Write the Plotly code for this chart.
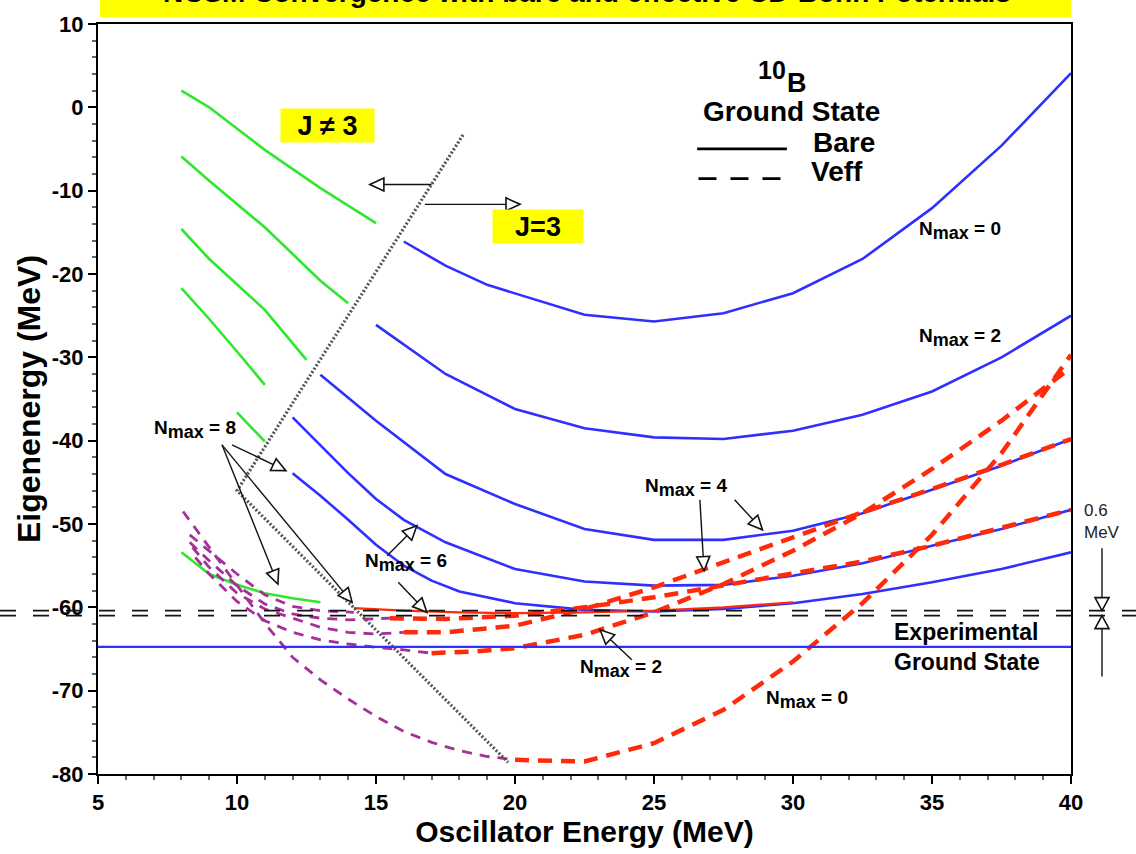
import math
import plotly.graph_objects as go

# ---------------- data: 10B ground-state energy vs. oscillator energy ----------------
# bare interaction, J=3 ground state (blue)
bare0_hw = [16, 17.5, 19, 22.5, 25, 27.5, 30, 32.5, 35, 37.5, 40]
bare0_e = [-16.1, -19.0, -21.3, -24.9, -25.7, -24.7, -22.3, -18.2, -12.1, -4.6, 4.1]
bare2_hw = [15, 17.5, 20, 22.5, 25, 27.5, 30, 32.5, 35, 37.5, 40]
bare2_e = [-26.1, -32.0, -36.2, -38.5, -39.6, -39.8, -38.8, -36.9, -34.1, -30.0, -25.0]
bare4_hw = [13, 15, 17.5, 20, 22.5, 25, 27.5, 30, 32.5, 35, 37.5, 40]
bare4_e = [-32.1, -37.6, -44.0, -47.6, -50.6, -51.9, -51.9, -50.8, -48.7, -45.9, -43.0, -39.8]
bare6_hw = [12, 13, 14, 15, 16, 17.5, 20, 22.5, 25, 27.5, 30, 32.5, 35, 37.5, 40]
bare6_e = [-37.2, -40.6, -43.9, -47.0, -49.5, -52.2, -55.4, -56.9, -57.4, -57.3, -56.2, -54.7, -52.6, -50.6, -48.3]
bare8_hw = [12, 13, 14, 15, 16, 17, 18, 20, 22.5, 25, 27.5, 30, 32.5, 35, 37.5, 40]
bare8_e = [-43.9, -46.6, -49.5, -52.5, -55.0, -56.8, -58.1, -59.5, -60.3, -60.5, -60.2, -59.5, -58.4, -57.0, -55.4, -53.4]

# bare interaction, J != 3 ground state at low hw (green)
green0_hw = [8, 9, 11, 13, 15]
green0_e = [2.0, 0.0, -5.1, -9.7, -13.9]
green2_hw = [8, 9, 11, 13, 14]
green2_e = [-5.9, -8.8, -14.4, -20.8, -23.5]
green4_hw = [8, 9, 11, 12.5]
green4_e = [-14.6, -18.2, -24.3, -30.3]
green6_hw = [8, 9, 10, 11]
green6_e = [-21.7, -25.4, -29.3, -33.3]
green8_hw = [10, 11]
green8_e = [-36.6, -40.1]
greenv_hw = [8, 9, 10, 11, 12, 13]
greenv_e = [-53.4, -56.0, -57.3, -58.3, -58.9, -59.4]

# effective interaction, J=3 (red)
veff0_hw = [20, 22.5, 25, 27.5, 30, 32.5, 35, 37.5, 40]
veff0_e = [-78.3, -78.5, -76.3, -72.3, -66.5, -59.5, -51.3, -41.5, -29.7]
veff2_hw = [17, 18.5, 20, 22.5, 25, 27.5, 30, 32.5, 35, 37.5, 40]
veff2_e = [-65.5, -65.3, -64.9, -63.3, -60.6, -57.2, -53.2, -48.7, -43.4, -37.6, -31.2]
veff4_hw = [16, 17.5, 20, 22.5, 25, 27.5, 30, 32.5, 35, 37.5, 40]
veff4_e = [-63.0, -63.0, -62.2, -60.2, -57.6, -54.6, -51.5, -48.6, -45.8, -42.9, -39.8]
veff6_hw = [15.5, 17.5, 20, 22.5, 25, 27.5, 30, 32.5, 35, 37.5, 40]
veff6_e = [-61.3, -61.4, -61.0, -60.0, -58.8, -57.4, -55.9, -54.5, -52.6, -50.5, -48.3]
veff8_hw = [14.2, 16, 18, 20, 22.5, 25, 27.5, 30]
veff8_e = [-60.1, -60.4, -60.6, -60.7, -60.6, -60.4, -60.0, -59.4]

# effective interaction, J != 3 at low hw (purple)
pur0_hw = [8.06, 9, 10, 11, 12, 13, 14, 15, 16, 17, 18, 19, 19.8]
pur0_e = [-48.5, -52.8, -57.3, -61.9, -66.0, -68.7, -71.0, -73.1, -74.9, -76.2, -77.2, -77.9, -78.2]
pur2_hw = [8.5, 9, 10, 11, 12, 13, 14, 15, 16, 17]
pur2_e = [-54.0, -56.0, -59.3, -61.6, -63.0, -63.9, -64.4, -64.8, -65.1, -65.5]
pur4_hw = [8.4, 9, 10, 11, 12, 13, 14, 15, 16]
pur4_e = [-52.8, -55.2, -58.3, -60.2, -61.3, -62.4, -63.0, -63.2, -63.0]
pur6_hw = [8.3, 9, 10, 11, 12, 13, 14, 15.5]
pur6_e = [-52.2, -54.4, -57.4, -59.6, -60.8, -61.3, -61.5, -61.3]
pur8_hw = [8.3, 9, 10, 11, 12, 13, 14.2]
pur8_e = [-51.3, -53.2, -56.0, -58.5, -59.9, -60.4, -60.6]

EXP_GS = -64.75          # experimental ground state
BAND_HI, BAND_LO = -60.4, -61.0   # 0.6 MeV band of the converged result

# J=3 / J!=3 boundary (dotted wedge)
wedge_hw = [18.13, 10.0, 19.75]
wedge_e = [-3.3, -46.0, -78.6]

x_ticks = [5, 10, 15, 20, 25, 30, 35, 40]
y_ticks = [10, 0, -10, -20, -30, -40, -50, -60, -70, -80]

# ---------------- styling ----------------
FONT = "Liberation Sans, Arial, Helvetica, sans-serif"
BLUE = "#2f2fff"
GREEN = "#2ee82e"
RED = "#ff2a0a"
PURPLE = "#a5309a"

W, H = 1136, 854
ML, MR, MT, MB = 98, 65, 16, 80
PW, PH = W - ML - MR, H - MT - MB
X_RANGE, Y_RANGE = [5, 40], [-80, 10]
SX = PW / (X_RANGE[1] - X_RANGE[0])
SY = PH / (Y_RANGE[1] - Y_RANGE[0])

fig = go.Figure()


def curve(x, y, color, width, dash=None):
    fig.add_trace(go.Scatter(x=x, y=y, mode="lines", showlegend=False, hoverinfo="skip",
                             line=dict(color=color, width=width, dash=dash)))


for hw, e in [(green0_hw, green0_e), (green2_hw, green2_e), (green4_hw, green4_e),
              (green6_hw, green6_e), (green8_hw, green8_e), (greenv_hw, greenv_e)]:
    curve(hw, e, GREEN, 2.6)

for hw, e in [(bare0_hw, bare0_e), (bare2_hw, bare2_e), (bare4_hw, bare4_e),
              (bare6_hw, bare6_e), (bare8_hw, bare8_e)]:
    curve(hw, e, BLUE, 2.6)

for hw, e in [(pur0_hw, pur0_e), (pur2_hw, pur2_e), (pur4_hw, pur4_e),
              (pur6_hw, pur6_e), (pur8_hw, pur8_e)]:
    curve(hw, e, PURPLE, 2.8, "10px,8px")

curve(veff8_hw, veff8_e, RED, 2.2)
for hw, e in [(veff0_hw, veff0_e), (veff2_hw, veff2_e), (veff4_hw, veff4_e), (veff6_hw, veff6_e)]:
    curve(hw, e, RED, 4.5, "14px,9px")

# dotted boundary between J != 3 and J = 3 regions
curve(wedge_hw, wedge_e, "#555555", 3.2, "2px,2px")

# experimental ground state
fig.add_hline(y=EXP_GS, line=dict(color=BLUE, width=2.4), layer="above")

# converged band lines across the full width of the page
for yb in (BAND_HI, BAND_LO):
    fig.add_shape(type="line", xref="paper", yref="y", x0=-ML / PW, x1=(W - ML) / PW,
                  y0=yb, y1=yb, line=dict(color="#111111", width=1.6, dash="16px,17px"))


def arrow(tail, head, xref="x", yref="y", L=14, Wd=6.5):
    tx, ty = tail
    hx, hy = head
    sx = SX if xref == "x" else PW
    dxp, dyp = (hx - tx) * sx, (hy - ty) * SY
    n = math.hypot(dxp, dyp)
    ux, uy = dxp / n, dyp / n
    fig.add_shape(type="line", xref=xref, yref=yref, x0=tx, y0=ty, x1=hx, y1=hy,
                  line=dict(color="#111111", width=1.4))
    bx, by = -L * ux, -L * uy
    p1 = (bx - Wd * uy, by + Wd * ux)
    p2 = (bx + Wd * uy, by - Wd * ux)
    path = f"M0,0 L{p1[0]:.2f},{p1[1]:.2f} L{p2[0]:.2f},{p2[1]:.2f} Z"
    fig.add_shape(type="path", xref=xref, yref=yref, xsizemode="pixel", ysizemode="pixel",
                  xanchor=hx, yanchor=hy, path=path, fillcolor="white",
                  line=dict(color="#111111", width=1.6))


# region arrows
arrow((17.0, -9.26), (14.78, -9.26))
arrow((16.76, -11.64), (20.18, -11.64))
# N_max label pointers
arrow((9.82, -40.5), (11.76, -43.6))
arrow((9.46, -40.5), (11.47, -57.2))
arrow((9.46, -40.5), (14.14, -59.4))
arrow((15.4, -53.8), (16.47, -50.2))
arrow((15.8, -57.0), (16.83, -60.6))
arrow((27.9, -47.1), (28.9, -50.7))
arrow((26.65, -47.1), (26.8, -55.6))
arrow((24.2, -66.3), (23.06, -62.7))
# 0.6 MeV band arrows outside the frame
XB = (1102 - ML) / PW
arrow((XB, -52.9), (XB, BAND_HI), xref="paper", L=13, Wd=7)
arrow((XB, -68.3), (XB, BAND_LO), xref="paper", L=13, Wd=7)

# legend lines
fig.add_shape(type="line", x0=26.55, x1=29.78, y0=-4.99, y1=-4.99, line=dict(color="black", width=2.6))
fig.add_shape(type="line", x0=26.6, x1=29.6, y0=-8.55, y1=-8.55,
              line=dict(color="black", width=2.6, dash="18px,14px"))


def label(x, y, text, size=18, xanchor="center", bg=None, xref="x", yref="y", color="black",
          weight="bold", align="center", width=None, height=None):
    fig.add_annotation(x=x, y=y, xref=xref, yref=yref, text=text, showarrow=False,
                       xanchor=xanchor, yanchor="middle", align=align,
                       font=dict(family=FONT, size=size, color=color, weight=weight),
                       bgcolor=bg, borderpad=0, width=width, height=height)


# nucleus symbol: mass number raised, element letter set lower
label(29.24, 4.5, "10", size=25)
label(30.14, 2.9, "B", size=27)
label(29.93, -0.45, "Ground State", size=28)
label(30.68, -4.25, "Bare", size=28, xanchor="left")
label(30.6, -7.75, "Veff", size=28, xanchor="left")
label(13.27, -2.2, "J \u2260 3", size=27, bg="#ffff00", width=93, height=33)
label(20.83, -14.3, "J=3", size=27, bg="#ffff00", width=90, height=33)

nm = "N<sub><span style='font-size:18px'>max</span></sub> = {}"
label(36.0, -14.8, nm.format(0), size=19)
label(36.0, -27.6, nm.format(2), size=19)
label(26.15, -45.6, nm.format(4), size=19)
label(16.08, -54.6, nm.format(6), size=19)
label(8.49, -38.6, nm.format(8), size=19)
label(23.81, -67.3, nm.format(2), size=19)
label(30.5, -71.1, nm.format(0), size=19)

label((893 - ML) / PW, -64.8, "Experimental<br>Ground State", size=23, xanchor="left",
      align="left", xref="paper")
label((1083 - ML) / PW, -49.7, "0.6<br>MeV", size=17, xanchor="left", xref="paper",
      color="#222222", weight="normal", align="left")

# banner across the top edge
fig.add_shape(type="rect", xref="paper", yref="paper", x0=2 / PW, x1=1.0,
              y0=(PH + MT - 9) / PH, y1=1.2, fillcolor="#ffff00", line=dict(width=0), layer="below")
fig.add_annotation(x=0.503, y=(PH + MT - 1.5) / PH, xref="paper", yref="paper", yanchor="bottom",
                   text="NCSM Convergence with bare and effective CD-Bonn Potentials",
                   showarrow=False, font=dict(family=FONT, size=28, color="black", weight="bold"))

axis_common = dict(showline=True, linecolor="black", linewidth=2, mirror=True, showgrid=False,
                   zeroline=False, ticks="outside", ticklen=8, tickwidth=1.5, tickcolor="black",
                   tickfont=dict(family=FONT, size=22, color="black", weight="bold"))

fig.update_xaxes(range=X_RANGE, tickvals=x_ticks, ticktext=[str(v) for v in x_ticks],
                 minor=dict(dtick=1, ticks="outside", ticklen=4, tickcolor="#666666"),
                 title=dict(text="Oscillator Energy (MeV)", standoff=2,
                            font=dict(family=FONT, size=30, color="black", weight="bold")),
                 **axis_common)
fig.update_yaxes(range=Y_RANGE, tickvals=y_ticks, ticktext=[str(v) for v in y_ticks],
                 minor=dict(dtick=2, ticks="outside", ticklen=4, tickcolor="#666666"),
                 title=dict(text="Eigenenergy (MeV)", standoff=2,
                            font=dict(family=FONT, size=32, color="black", weight="bold")),
                 **axis_common)

fig.update_layout(width=W, height=H, margin=dict(l=ML, r=MR, t=MT, b=MB),
                  plot_bgcolor="white", paper_bgcolor="white", showlegend=False)

fig.write_html("out.html")
